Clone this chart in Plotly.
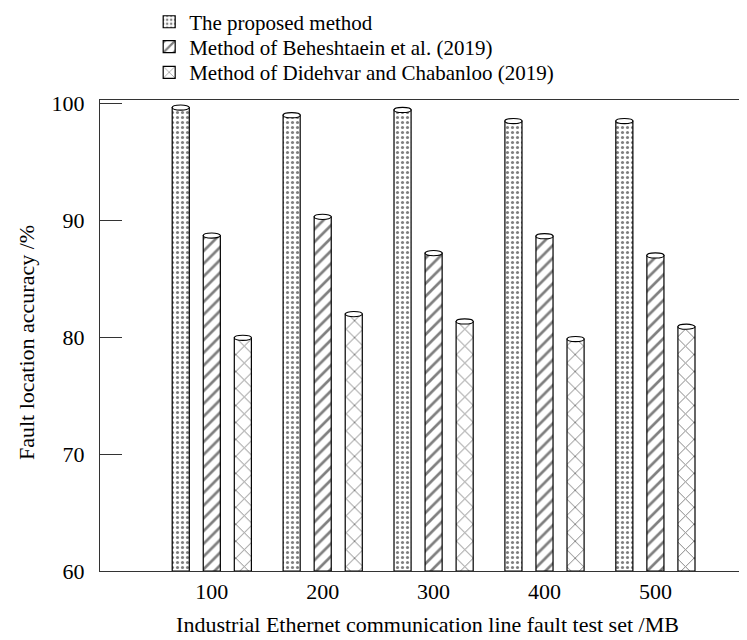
import plotly.graph_objects as go

categories = ["100", "200", "300", "400", "500"]
series_names = [
    "The proposed method",
    "Method of Beheshtaein et al. (2019)",
    "Method of Didehvar and Chabanloo (2019)",
]
proposed = [99.65, 99.0, 99.45, 98.5, 98.5]
beheshtaein = [88.7, 90.3, 87.2, 88.65, 87.0]
didehvar = [79.95, 81.98, 81.35, 79.85, 80.9]
series_values = [proposed, beheshtaein, didehvar]
y_ticks = [60, 70, 80, 90, 100]
x_title = "Industrial Ethernet communication line fault test set /MB"
y_title = "Fault location accuracy /%"

patterns = [dict(shape=".", size=5, solidity=0.3),
            dict(shape="/", size=9, solidity=0.3),
            dict(shape="x", size=12, solidity=0.15)]
legend_ids = ["legend", "legend2", "legend3"]
legend_y = [0.978, 0.939, 0.899]

FONT = "Liberation Serif, Times New Roman, serif"
AX = "#333333"
BASE = 60
bargap = 0.16
bargroupgap = 0.45
n = len(series_values)

fig = go.Figure()
for name, vals, pat, lg in zip(series_names, series_values, patterns, legend_ids):
    fig.add_trace(go.Bar(
        x=list(range(len(categories))), y=[v - BASE for v in vals], base=BASE,
        name=name, legend=lg,
        marker=dict(color="white", line=dict(color="black", width=1.2),
                    pattern=dict(fgcolor="black", bgcolor="white", **pat)),
    ))

# cylinder caps derived from the data values and the bar layout
slot = (1 - bargap) / n
w = slot * (1 - bargroupgap)
for s, vals in enumerate(series_values):
    off = (s - (n - 1) / 2) * slot
    for i, v in enumerate(vals):
        fig.add_shape(type="circle", xref="x", yref="y",
                      x0=i + off - w / 2, x1=i + off + w / 2,
                      y0=v - 0.22, y1=v + 0.22,
                      line=dict(color="black", width=1.1), fillcolor="white")

leg_common = dict(xref="container", yref="container", x=0.189, xanchor="left",
                  yanchor="middle", font=dict(family=FONT, size=21, color="black"),
                  bgcolor="rgba(0,0,0,0)", itemwidth=30)
fig.update_layout(
    width=747, height=640,
    margin=dict(l=92, r=0, t=92, b=77, autoexpand=False),
    paper_bgcolor="white", plot_bgcolor="white",
    barmode="group", bargap=bargap, bargroupgap=bargroupgap,
    font=dict(family=FONT, size=22, color="black"),
    showlegend=True,
    legend=dict(y=legend_y[0], **leg_common),
    legend2=dict(y=legend_y[1], **leg_common),
    legend3=dict(y=legend_y[2], **leg_common),
    xaxis=dict(tickmode="array", tickvals=list(range(len(categories))), ticktext=categories,
               range=[-1.008, 4.898], showline=True, linecolor=AX, linewidth=1.3, mirror=True,
               ticks="", showgrid=False, zeroline=False,
               tickfont=dict(family=FONT, size=22),
               title=dict(text=x_title, font=dict(family=FONT, size=22), standoff=14)),
    yaxis=dict(range=[60, 100.3], tickvals=y_ticks,
               showline=True, linecolor=AX, linewidth=1.3, mirror=False,
               ticks="inside", ticklen=22, tickcolor=AX, tickwidth=1.3,
               showgrid=False, zeroline=False, ticklabelstandoff=10,
               tickfont=dict(family=FONT, size=22)),
    annotations=[dict(text=y_title, textangle=-90, xref="paper", yref="paper",
                      x=(18 - 92) / 655, y=0.484, xanchor="center", yanchor="middle",
                      showarrow=False, font=dict(family=FONT, size=22, color="black"))],
)
fig.write_html("out.html")
